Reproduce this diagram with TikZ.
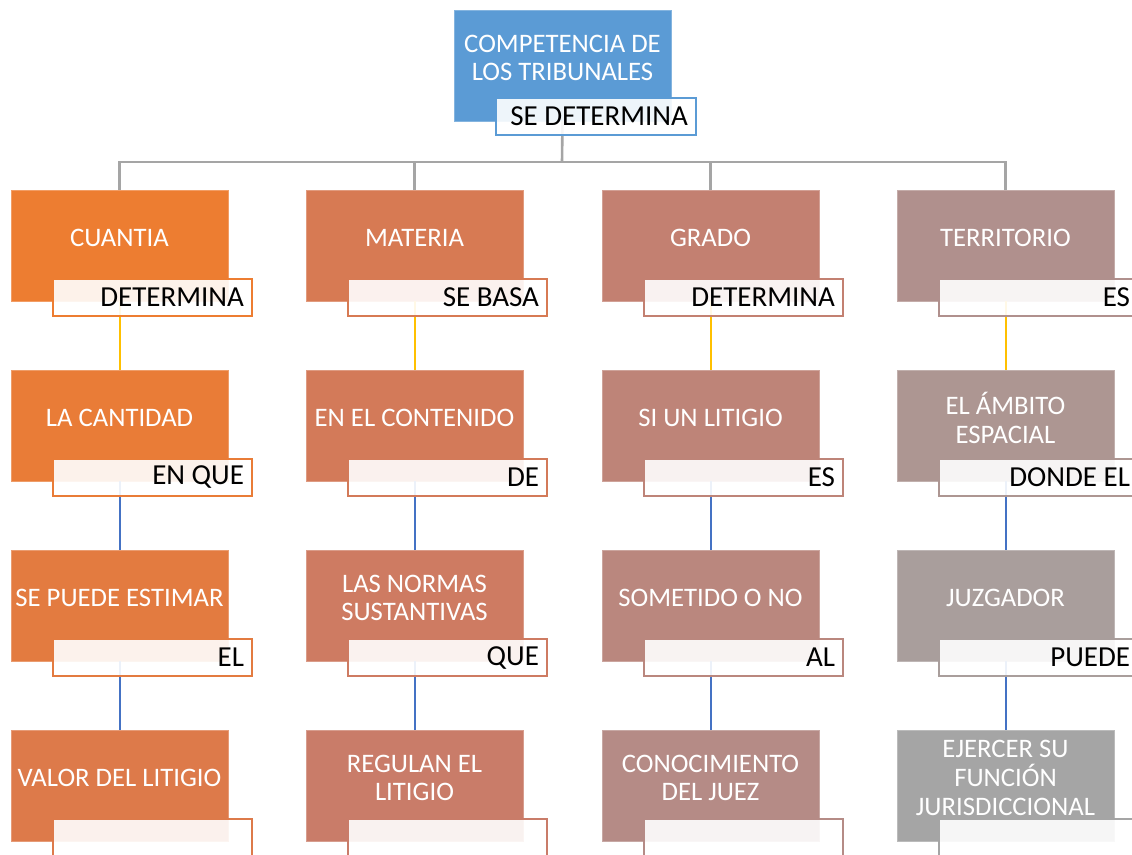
\documentclass[tikz,border=0pt]{standalone}
\usepackage{fontspec}
\setmainfont{Carlito}
\usetikzlibrary{calc}
\definecolor{ctop}{HTML}{5B9BD5}
\definecolor{ca}{HTML}{ED7D31}
\definecolor{cb}{HTML}{E97C37}
\definecolor{cc}{HTML}{E37B40}
\definecolor{cd}{HTML}{DD7A4A}
\definecolor{ce}{HTML}{D77A53}
\definecolor{cf}{HTML}{D37A59}
\definecolor{cg}{HTML}{CE7B62}
\definecolor{ch}{HTML}{C97C69}
\definecolor{ci}{HTML}{C38071}
\definecolor{cj}{HTML}{BE8478}
\definecolor{ck}{HTML}{BA877E}
\definecolor{cl}{HTML}{B58B86}
\definecolor{cm}{HTML}{B0908D}
\definecolor{cn}{HTML}{AD9692}
\definecolor{co}{HTML}{A99E9C}
\definecolor{cp}{HTML}{A5A5A5}
\definecolor{lgray}{HTML}{A5A5A5}
\definecolor{lgold}{HTML}{FFC000}
\definecolor{lblue}{HTML}{4472C4}
\tikzset{
  mainbox/.style={rectangle, fill=#1, draw=#1!75!white, line width=0.8pt,
    minimum width=217pt, minimum height=111pt, inner sep=0pt, outer sep=0pt, anchor=north west},
  boxtext/.style={text=white, font=\fontsize{26.7}{28.8}\selectfont, align=center, inner sep=0pt},
  lblbox/.style={rectangle, draw=#1, line width=1.8pt, fill=white, fill opacity=0.9, text opacity=1,
    minimum height=37pt, text width=183pt, inner xsep=8pt, inner ysep=0pt, outer sep=0pt,
    align=flush right, font=\fontsize{29}{30}\selectfont, anchor=north west},
  topconn/.style={draw=lgray, line width=2.6pt},
  goldconn/.style={draw=lgold, line width=2pt},
  blueconn/.style={draw=lblue, line width=2pt},
}
\begin{document}
\begin{tikzpicture}[x=1pt,y=-1pt]
\useasboundingbox (0,0) rectangle (1132,854);
\clip (0,0) rectangle (1132,854);
% main boxes
\node[mainbox=ctop] (top) at (454,10) {};
\node[mainbox=ca] (b11) at (11,190) {};
\node[mainbox=cb] (b12) at (11,370) {};
\node[mainbox=cc] (b13) at (11,550) {};
\node[mainbox=cd] (b14) at (11,730) {};
\node[mainbox=ce] (b21) at (306,190) {};
\node[mainbox=cf] (b22) at (306,370) {};
\node[mainbox=cg] (b23) at (306,550) {};
\node[mainbox=ch] (b24) at (306,730) {};
\node[mainbox=ci] (b31) at (602,190) {};
\node[mainbox=cj] (b32) at (602,370) {};
\node[mainbox=ck] (b33) at (602,550) {};
\node[mainbox=cl] (b34) at (602,730) {};
\node[mainbox=cm] (b41) at (897,190) {};
\node[mainbox=cn] (b42) at (897,370) {};
\node[mainbox=co] (b43) at (897,550) {};
\node[mainbox=cp] (b44) at (897,730) {};
% connectors
\coordinate (hub) at (562,162);
\draw[topconn] (top.south) -- (hub);
\draw[topconn] (b11.north) -- (b11.north |- hub) -- (b41.north |- hub) -- (b41.north);
\draw[topconn] (b21.north) -- (b21.north |- hub);
\draw[topconn] (b31.north) -- (b31.north |- hub);
\foreach \c in {1,2,3,4}{
  \draw[goldconn] (b\c1.south) -- (b\c2.north);
  \draw[blueconn] (b\c2.south) -- (b\c3.north);
  \draw[blueconn] (b\c3.south) -- (b\c4.north);
}
% box texts
\node[boxtext] (ttop) at ($(top.north)+(0,48)$) {COMPETENCIA DE\\LOS TRIBUNALES};
\node[boxtext] (t11) at ($(b11.north)+(0,48)$) {CUANTIA};
\node[boxtext] (t12) at ($(b12.north)+(0,48)$) {LA CANTIDAD};
\node[boxtext] (t13) at ($(b13.north)+(0,48)$) {SE PUEDE ESTIMAR};
\node[boxtext] (t14) at ($(b14.north)+(0,48)$) {VALOR DEL LITIGIO};
\node[boxtext] (t21) at ($(b21.north)+(0,48)$) {MATERIA};
\node[boxtext] (t22) at ($(b22.north)+(0,48)$) {EN EL CONTENIDO};
\node[boxtext] (t23) at ($(b23.north)+(0,48)$) {LAS NORMAS\\SUSTANTIVAS};
\node[boxtext] (t24) at ($(b24.north)+(0,48)$) {REGULAN EL\\LITIGIO};
\node[boxtext] (t31) at ($(b31.north)+(0,48)$) {GRADO};
\node[boxtext] (t32) at ($(b32.north)+(0,48)$) {SI UN LITIGIO};
\node[boxtext] (t33) at ($(b33.north)+(0,48)$) {SOMETIDO O NO};
\node[boxtext] (t34) at ($(b34.north)+(0,48)$) {CONOCIMIENTO\\DEL JUEZ};
\node[boxtext] (t41) at ($(b41.north)+(0,48)$) {TERRITORIO};
\node[boxtext] (t42) at ($(b42.north)+(0,48)$) {EL ÁMBITO\\ESPACIAL};
\node[boxtext] (t43) at ($(b43.north)+(0,48)$) {JUZGADOR};
\node[boxtext] (t44) at ($(b44.north)+(0,48)$) {EJERCER SU\\FUNCIÓN\\JURISDICCIONAL};
% label boxes
\node[lblbox=ctop, text width=184pt] (ltop) at ($(top.north west)+(42,88)$) {SE DETERMINA};
\node[lblbox=ca] (l11) at ($(b11.north west)+(42,89)$) {DETERMINA};
\node[lblbox=cb] (l12) at ($(b12.north west)+(42,89)$) {EN QUE};
\node[lblbox=cc] (l13) at ($(b13.north west)+(42,89)$) {EL};
\node[lblbox=cd] (l14) at ($(b14.north west)+(42,89)$) {};
\node[lblbox=ce] (l21) at ($(b21.north west)+(42,89)$) {SE BASA};
\node[lblbox=cf] (l22) at ($(b22.north west)+(42,89)$) {DE};
\node[lblbox=cg] (l23) at ($(b23.north west)+(42,89)$) {QUE};
\node[lblbox=ch] (l24) at ($(b24.north west)+(42,89)$) {};
\node[lblbox=ci] (l31) at ($(b31.north west)+(42,89)$) {DETERMINA};
\node[lblbox=cj] (l32) at ($(b32.north west)+(42,89)$) {ES};
\node[lblbox=ck] (l33) at ($(b33.north west)+(42,89)$) {AL};
\node[lblbox=cl] (l34) at ($(b34.north west)+(42,89)$) {};
\node[lblbox=cm] (l41) at ($(b41.north west)+(42,89)$) {ES};
\node[lblbox=cn] (l42) at ($(b42.north west)+(42,89)$) {DONDE EL};
\node[lblbox=co] (l43) at ($(b43.north west)+(42,89)$) {PUEDE};
\node[lblbox=cp] (l44) at ($(b44.north west)+(42,89)$) {};
\end{tikzpicture}
\end{document}
